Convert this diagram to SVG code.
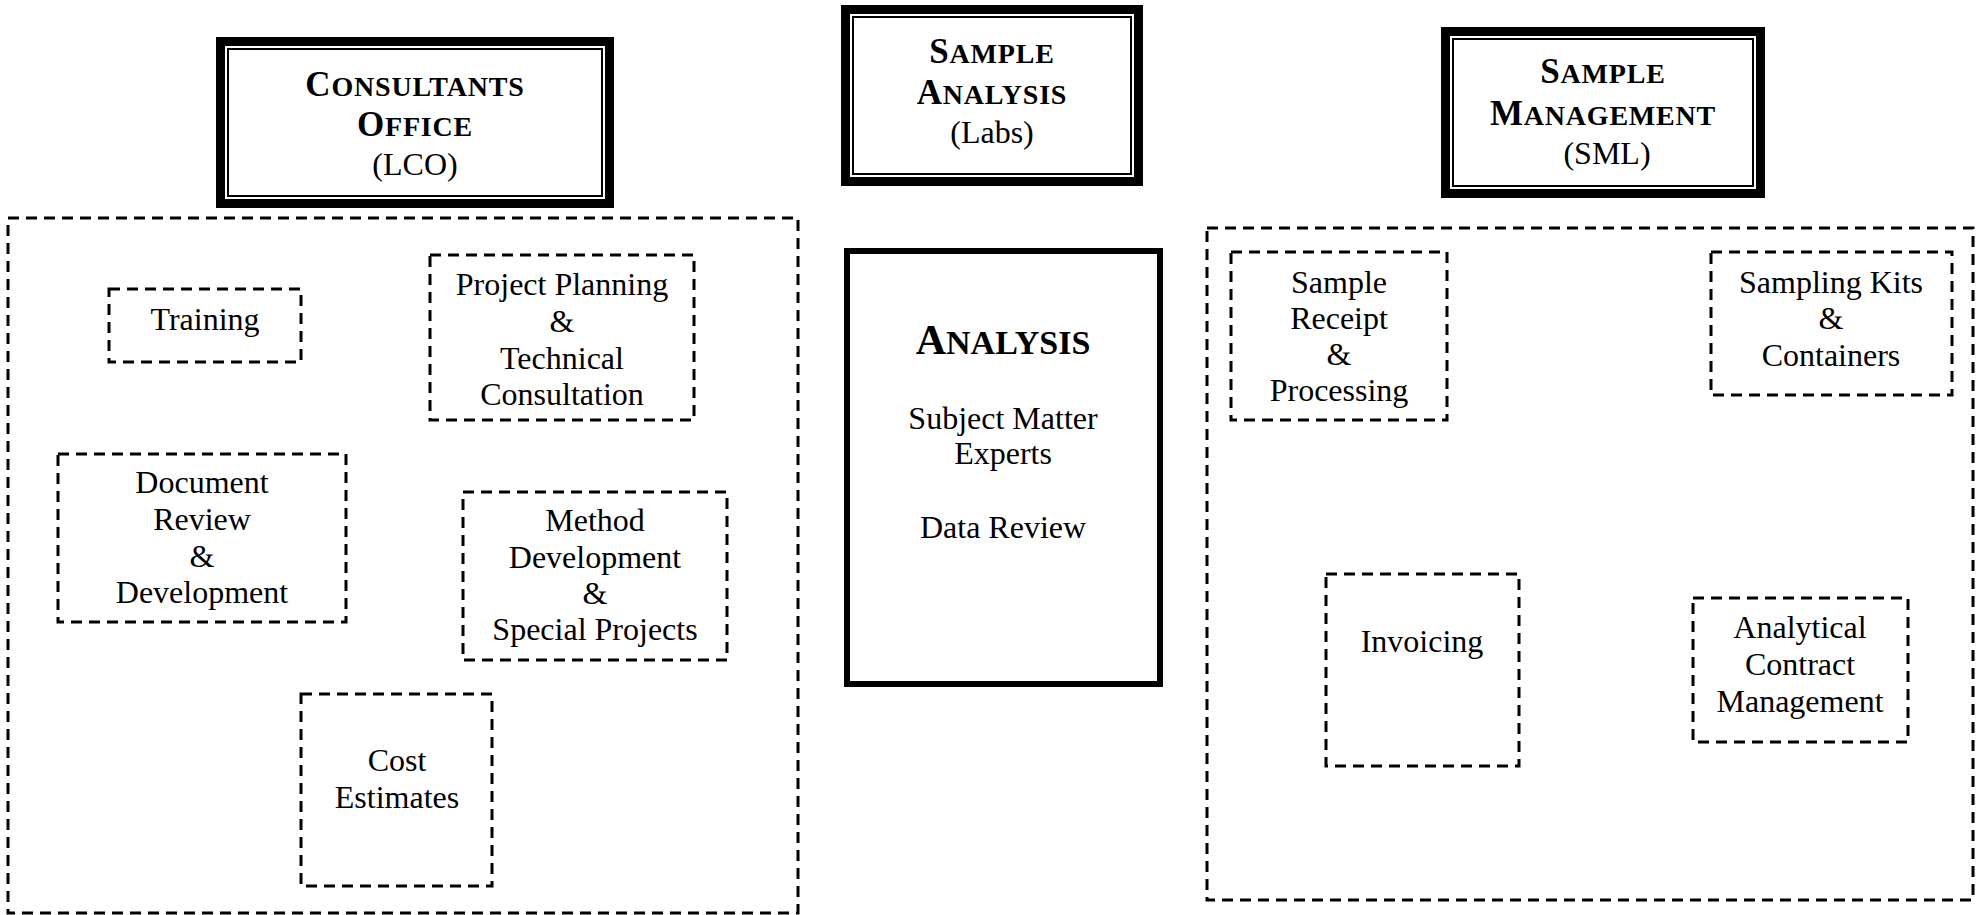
<svg xmlns="http://www.w3.org/2000/svg" width="1986" height="915" viewBox="0 0 1986 915">
<style>
  text { font-family: "Liberation Serif", "Times New Roman", serif; fill: #000; text-anchor: middle; }
  .body { font-size: 32px; }
  .hd { font-weight: bold; letter-spacing: 0.8px; }
  .big { font-size: 35px; }
  .sm { font-size: 28px; }
  .thick { fill: none; stroke: #000; stroke-width: 9; }
  .thin { fill: none; stroke: #000; stroke-width: 2; }
  .solid { fill: none; stroke: #000; stroke-width: 6; }
  .dash { fill: none; stroke: #000; stroke-width: 3; stroke-dasharray: 11 7; }
</style>
<rect width="1986" height="915" fill="#fff"/>

<g id="header-lco">
  <rect class="thick" x="220.5" y="41.5" width="389" height="162"/>
  <rect class="thin" x="228" y="49" width="374" height="147"/>
  <text class="hd" x="415" y="96"><tspan class="big">C</tspan><tspan class="sm">ONSULTANTS</tspan></text>
  <text class="hd" x="415" y="136"><tspan class="big">O</tspan><tspan class="sm">FFICE</tspan></text>
  <text class="body" x="415" y="175">(LCO)</text>
</g>

<g id="header-labs">
  <rect class="thick" x="845.5" y="9.5" width="293" height="172"/>
  <rect class="thin" x="853" y="17" width="278" height="157"/>
  <text class="hd" x="992" y="63"><tspan class="big">S</tspan><tspan class="sm">AMPLE</tspan></text>
  <text class="hd" x="992" y="104"><tspan class="big">A</tspan><tspan class="sm">NALYSIS</tspan></text>
  <text class="body" x="992" y="143">(Labs)</text>
</g>

<g id="header-sml">
  <rect class="thick" x="1445.5" y="31.5" width="315" height="162"/>
  <rect class="thin" x="1453" y="39" width="300" height="147"/>
  <text class="hd" x="1603" y="83"><tspan class="big">S</tspan><tspan class="sm">AMPLE</tspan></text>
  <text class="hd" x="1603" y="125"><tspan class="big">M</tspan><tspan class="sm">ANAGEMENT</tspan></text>
  <text class="body" x="1607" y="164">(SML)</text>
</g>

<g id="lco-area">
  <rect class="dash" x="8" y="218" width="790" height="695"/>
</g>
<g id="training">
  <rect class="dash" x="109" y="289" width="192" height="73"/>
  <text class="body" x="205" y="330">Training</text>
</g>
<g id="project-planning">
  <rect class="dash" x="430" y="255" width="264" height="165"/>
  <text class="body" x="562" y="295">Project Planning</text>
  <text class="body" x="562" y="332">&amp;</text>
  <text class="body" x="562" y="369">Technical</text>
  <text class="body" x="562" y="405">Consultation</text>
</g>
<g id="document-review">
  <rect class="dash" x="58" y="454" width="288" height="168"/>
  <text class="body" x="202" y="493">Document</text>
  <text class="body" x="202" y="530">Review</text>
  <text class="body" x="202" y="567">&amp;</text>
  <text class="body" x="202" y="603">Development</text>
</g>
<g id="method-development">
  <rect class="dash" x="463" y="492" width="264" height="168"/>
  <text class="body" x="595" y="531">Method</text>
  <text class="body" x="595" y="568">Development</text>
  <text class="body" x="595" y="604">&amp;</text>
  <text class="body" x="595" y="640">Special Projects</text>
</g>
<g id="cost-estimates">
  <rect class="dash" x="301" y="694" width="191" height="192"/>
  <text class="body" x="397" y="771">Cost</text>
  <text class="body" x="397" y="808">Estimates</text>
</g>

<g id="analysis">
  <rect class="solid" x="847" y="251" width="313" height="433"/>
  <text font-weight="bold" x="1003" y="354"><tspan font-size="42">A</tspan><tspan font-size="34">NALYSIS</tspan></text>
  <text class="body" x="1003" y="429">Subject Matter</text>
  <text class="body" x="1003" y="464">Experts</text>
  <text class="body" x="1003" y="538">Data Review</text>
</g>

<g id="sml-area">
  <rect class="dash" x="1207" y="228" width="766" height="672"/>
</g>
<g id="sample-receipt">
  <rect class="dash" x="1231" y="252" width="216" height="168"/>
  <text class="body" x="1339" y="293">Sample</text>
  <text class="body" x="1339" y="329">Receipt</text>
  <text class="body" x="1339" y="365">&amp;</text>
  <text class="body" x="1339" y="401">Processing</text>
</g>
<g id="sampling-kits">
  <rect class="dash" x="1711" y="252" width="241" height="143"/>
  <text class="body" x="1831" y="293">Sampling Kits</text>
  <text class="body" x="1831" y="329">&amp;</text>
  <text class="body" x="1831" y="366">Containers</text>
</g>
<g id="invoicing">
  <rect class="dash" x="1326" y="574" width="193" height="192"/>
  <text class="body" x="1422" y="652">Invoicing</text>
</g>
<g id="analytical-contract">
  <rect class="dash" x="1693" y="598" width="215" height="144"/>
  <text class="body" x="1800" y="638">Analytical</text>
  <text class="body" x="1800" y="675">Contract</text>
  <text class="body" x="1800" y="712">Management</text>
</g>

<g id="connectors"></g>
</svg>
